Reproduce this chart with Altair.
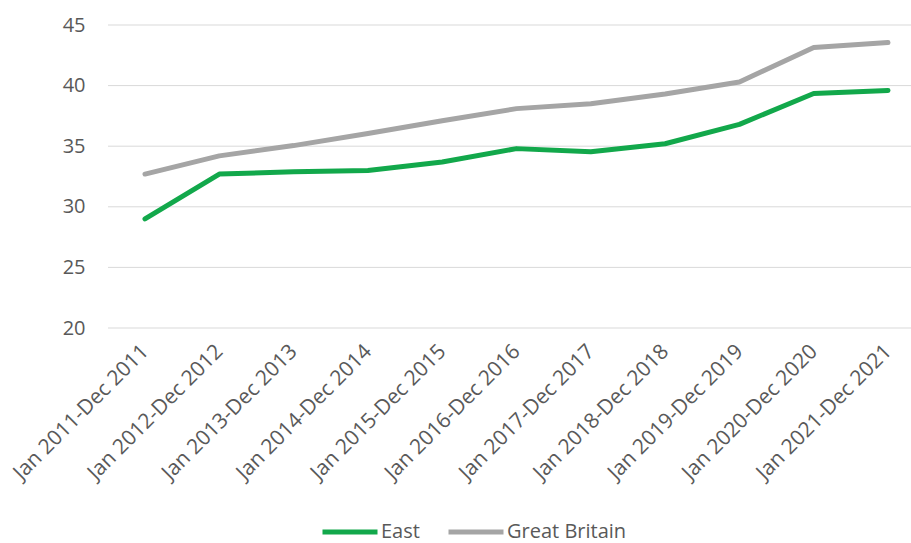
import altair as alt
import pandas as pd

periods = [
    "Jan 2011-Dec 2011", "Jan 2012-Dec 2012", "Jan 2013-Dec 2013",
    "Jan 2014-Dec 2014", "Jan 2015-Dec 2015", "Jan 2016-Dec 2016",
    "Jan 2017-Dec 2017", "Jan 2018-Dec 2018", "Jan 2019-Dec 2019",
    "Jan 2020-Dec 2020", "Jan 2021-Dec 2021",
]
east = [29.0, 32.7, 32.9, 33.0, 33.7, 34.8, 34.55, 35.2, 36.8, 39.35, 39.6]
gb = [32.7, 34.2, 35.05, 36.05, 37.1, 38.1, 38.5, 39.3, 40.3, 43.15, 43.55]
series = ["East", "Great Britain"]
colors = ["#12A84B", "#A5A5A5"]
y_ticks = [20, 25, 30, 35, 40, 45]

rows = []
for p, e, g in zip(periods, east, gb):
    rows.append({"period": p, "series": "East", "value": e})
    rows.append({"period": p, "series": "Great Britain", "value": g})
df = pd.DataFrame(rows)
grid_df = pd.DataFrame({"tick": y_ticks})

font = "Open Sans"
W, H = 803, 303
yscale = alt.Scale(domain=[20, 45], nice=False, zero=False)
yaxis = alt.Axis(values=y_ticks, labelFont=font, labelFontSize=20,
                 labelColor="#595959", labelPadding=23, ticks=False,
                 domain=False, grid=False)

grid = alt.Chart(grid_df).mark_rule(color="#D9D9D9", strokeWidth=1).encode(
    y=alt.Y("tick:Q", scale=yscale, title=None, axis=yaxis),
    x=alt.value(0), x2=alt.value(W),
)

lines = alt.Chart(df).mark_line(strokeWidth=5, strokeCap="round", strokeJoin="round").encode(
    x=alt.X("period:O", sort=periods, title=None,
            scale=alt.Scale(range=[37, 780], padding=0),
            axis=alt.Axis(labelAngle=-45, labelAlign="right", labelBaseline="middle",
                          labelFont=font, labelFontSize=21, labelColor="#595959",
                          labelPadding=20, labelLimit=400, ticks=False, domain=False,
                          grid=False)),
    y=alt.Y("value:Q", scale=yscale, title=None, axis=yaxis),
    color=alt.Color("series:N", sort=series,
                    scale=alt.Scale(domain=series, range=colors),
                    legend=alt.Legend(title=None, orient="none", direction="horizontal",
                                      legendX=212, legendY=477,
                                      symbolType="stroke", symbolSize=3025, symbolStrokeWidth=5,
                                      labelFont=font, labelFontSize=20, labelColor="#595959",
                                      labelOffset=1, columnPadding=18)),
)

chart = alt.layer(grid, lines).properties(
    width=W, height=H,
    autosize=alt.AutoSizeParams(type="none"),
    padding={"left": 108, "top": 25, "right": 0, "bottom": 215},
).configure_view(stroke=None)

chart.save("out.html", embed_options={"renderer": "svg", "actions": False})
